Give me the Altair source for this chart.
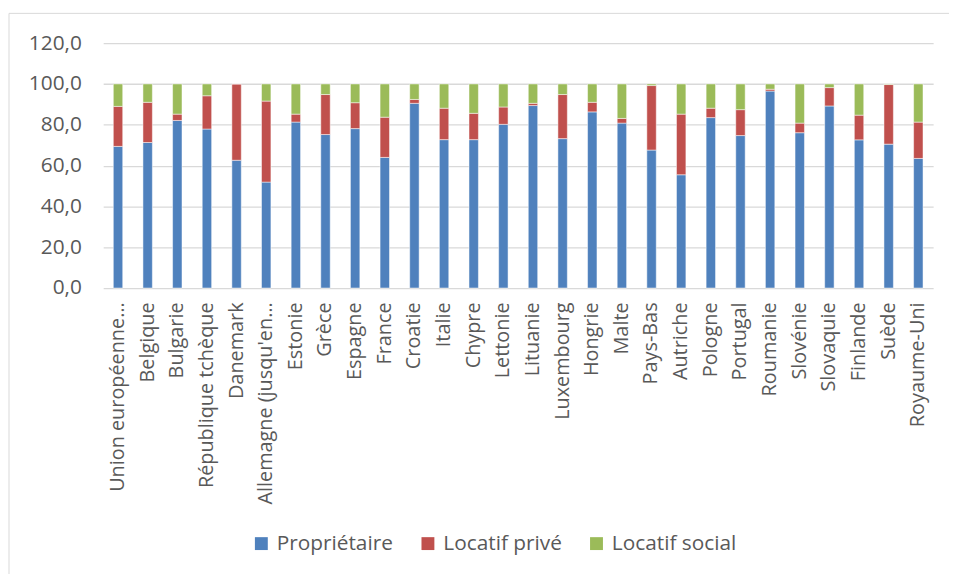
import altair as alt
import pandas as pd

pays = [
    "Union européenne…", "Belgique", "Bulgarie", "République tchèque", "Danemark",
    "Allemagne (jusqu'en…", "Estonie", "Grèce", "Espagne", "France", "Croatie",
    "Italie", "Chypre", "Lettonie", "Lituanie", "Luxembourg", "Hongrie", "Malte",
    "Pays-Bas", "Autriche", "Pologne", "Portugal", "Roumanie", "Slovénie",
    "Slovaquie", "Finlande", "Suède", "Royaume-Uni",
]
proprietaire = [69.4, 71.3, 82.1, 77.9, 62.6, 51.9, 81.3, 75.2, 78.1, 64.0, 90.5,
                72.7, 72.7, 80.2, 89.4, 73.2, 86.3, 80.8, 67.6, 55.5, 83.5, 74.7,
                96.5, 76.1, 89.2, 72.6, 70.5, 63.5]
locatif_prive = [19.6, 19.7, 3.1, 16.3, 37.4, 39.7, 3.9, 19.6, 12.7, 19.7, 1.9,
                 15.4, 12.9, 8.5, 1.1, 21.6, 4.7, 2.3, 31.6, 29.7, 4.6, 12.7,
                 0.9, 4.7, 9.0, 12.1, 29.2, 17.8]
locatif_social = [11.0, 9.0, 14.8, 5.8, 0.0, 8.4, 14.8, 5.2, 9.2, 16.3, 7.6,
                  11.9, 14.4, 11.3, 9.5, 5.2, 9.0, 16.9, 0.8, 14.8, 11.9, 12.6,
                  2.6, 19.2, 1.8, 15.3, 0.3, 18.7]

series = ["Propriétaire", "Locatif privé", "Locatif social"]
colors = ["#4F81BD", "#C0504D", "#9BBB59"]

rows = []
for i, p in enumerate(pays):
    for k, (name, vals) in enumerate(zip(series, [proprietaire, locatif_prive, locatif_social])):
        rows.append({"pays": p, "statut": name, "valeur": vals[i], "ordre": k})
df = pd.DataFrame(rows)

FONT = "Open Sans"
GREY = "#595959"

bars = alt.Chart(df).mark_bar(size=9.5, stroke="#ffffff", strokeWidth=0.5).encode(
    x=alt.X("pays:N", sort=pays, title=None,
            axis=alt.Axis(labelAngle=-90, labelFont=FONT, labelFontSize=20,
                          labelColor=GREY, ticks=False, domain=False,
                          labelPadding=14, labelLimit=400, grid=False)),
    y=alt.Y("valeur:Q", stack="zero", title=None,
            scale=alt.Scale(domain=[0, 120], nice=False),
            axis=alt.Axis(values=[0, 20, 40, 60, 80, 100, 120],
                          labelExpr="replace(format(datum.value, '.1f'), '.', ',')",
                          labelFont=FONT, labelFontSize=21, labelColor=GREY,
                          ticks=False, domain=False, labelPadding=22,
                          grid=True, gridColor="#d9d9d9", gridWidth=1.3)),
    color=alt.Color("statut:N", sort=series,
                    scale=alt.Scale(domain=series, range=colors),
                    legend=alt.Legend(title=None, orient="none", direction="horizontal",
                                      legendX=149, legendY=494,
                                      symbolType="square", symbolSize=169,
                                      symbolStrokeWidth=0, labelFont=FONT,
                                      labelFontSize=21, labelColor=GREY,
                                      labelOffset=5, columnPadding=24,
                                      labelLimit=300)),
    order=alt.Order("ordre:Q", sort="ascending"),
)

frame = alt.Chart(alt.Data(values=[{}])).mark_rect(
    fill=None, stroke="#d9d9d9", strokeWidth=1
).encode(
    x=alt.value(-95), x2=alt.value(900), y=alt.value(-30), y2=alt.value(600)
)

chart = alt.layer(frame, bars).properties(
    width=837, height=247,
    padding={"left": 96, "top": 33, "right": 16, "bottom": 286},
    autosize=alt.AutoSizeParams(type="none"),
).configure_view(stroke=None)

chart.save("out.html", embed_options={"renderer": "svg", "actions": False})
